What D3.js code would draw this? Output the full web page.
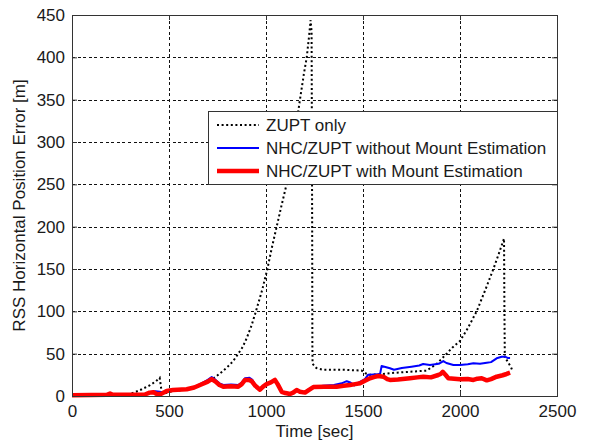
<!DOCTYPE html>
<html>
<head>
<meta charset="utf-8">
<script src="https://cdn.jsdelivr.net/npm/d3@7"></script>
<style>
  html, body { margin: 0; padding: 0; background: #fff; }
  svg { display: block; }
  text { font-family: "Liberation Sans", Arial, sans-serif; fill: #1a1a1a; }
</style>
</head>
<body>
<div id="chart"></div>
<script>
// ---- data ----
const xTicks = [0, 500, 1000, 1500, 2000, 2500];
const yTicks = [0, 50, 100, 150, 200, 250, 300, 350, 400, 450];
const seriesNames = ["ZUPT only", "NHC/ZUPT without Mount Estimation", "NHC/ZUPT with Mount Estimation"];
const xLabel = "Time [sec]";
const yLabel = "RSS Horizontal Position Error [m]";

// [time (s), error (m)]
const zuptOnly = [
  [0,0.5],[100,0.8],[200,1],[270,1.2],[300,2.5],[330,5],[360,8],[400,12.5],[430,17],[452,21.5],[462,5],[480,3],
  [500,5],[550,6.5],[600,8.5],[660,13],[700,17],[737,22],[770,28],[800,34],[830,41],[857,50],
  [880,58],[900,68],[925,83],[948,100],[980,125],[1007,150],[1030,175],[1055,200],[1080,225],[1106,250],[1143,300],
  [1175,350],[1195,380],[1210,400],[1222,425],[1230,444],[1235,430],[1238,200],[1239,60],[1240,38],
  [1260,33],[1294,31],[1400,31],[1493,30],[1510,27],[1536,25],[1600,26],[1639,27],[1700,28],
  [1828,30],[1880,38],[1923,48],[1960,57],[2000,65],[2040,80],[2086,100],[2130,125],[2172,150],
  [2200,168],[2227,186],[2229,100],[2231,46],[2263,34],[2270,30]
];

const withoutMount = [
  [0,1],[100,1.2],[180,1.5],[196,3],[210,1.5],[300,1.5],[376,2],[400,4.5],[430,5.5],[453,5],[470,4],
  [488,6],[520,7],[591,8],[630,10.5],[660,14],[700,19],[720,22.5],[740,19],[760,15],[780,13],
  [820,13.5],[857,13],[875,16],[892,21],[915,21.5],[930,19],[945,13],[969,8],[985,11],[1003,14],
  [1025,16],[1046,19],[1060,14],[1081,5.5],[1100,4],[1124,3],[1140,4.5],[1158,7],[1175,5.5],
  [1201,4.5],[1220,8],[1244,11],[1278,11.5],[1294,12.2],[1350,13],[1390,15],[1416,17.5],[1435,16],
  [1455,12.5],[1480,16],[1510,20],[1526,25],[1560,25.5],[1588,26],[1596,35.5],[1620,34],[1639,32.7],
  [1660,31],[1700,33],[1750,34.6],[1790,36],[1810,37.8],[1845,36.6],[1890,38],[1914,41.3],[1930,39],
  [1966,36.6],[2000,36.6],[2040,37.5],[2069,38.6],[2103,38],[2138,39.3],[2160,40],[2189,44.5],
  [2215,46.4],[2232,46.4],[2245,45],[2258,45]
];

const withMount = [
  [0,1],[100,1.2],[180,1.5],[196,3],[210,1.5],[300,1.5],[376,1.8],[400,4],[420,4.5],[437,2.4],
  [460,2.5],[488,6],[520,7],[591,8],[630,10],[660,13],[700,17],[720,20],[740,17],[760,13],[780,11],
  [820,11.5],[857,11],[875,14],[892,19],[910,19],[926,17.7],[945,12],[969,7.5],[985,11],[1003,14],
  [1025,16],[1046,19],[1060,14],[1081,5],[1100,3.5],[1124,2.4],[1140,4],[1158,7],[1175,5],[1201,4],
  [1220,7],[1244,10.5],[1300,11],[1364,11],[1400,12],[1433,13],[1460,14],[1485,15],[1510,18],
  [1536,21],[1560,22.5],[1579,23.6],[1605,22.8],[1625,20],[1639,19],[1680,19.5],[1742,21],[1780,22],
  [1811,22.8],[1850,22],[1888,24.8],[1900,26],[1911,28.5],[1925,25],[1940,21],[1970,20.5],[2000,19.7],
  [2040,20],[2069,19],[2090,20.5],[2112,21],[2138,18.5],[2160,20],[2189,22.8],[2220,24.5],[2240,26],
  [2258,27.5]
];

// ---- layout ----
const W = 591, H = 444;
const L = 72, R = 557, T = 15, B = 396;
const fs = 17;

const svg = d3.select("#chart").append("svg").attr("width", W).attr("height", H);

const x = d3.scaleLinear().domain([0, 2500]).range([L, R]);
const y = d3.scaleLinear().domain([0, 450]).range([B, T]);

// grid
const grid = svg.append("g").attr("stroke", "#111").attr("stroke-width", 1)
  .attr("stroke-dasharray", "3,2.6").attr("shape-rendering", "crispEdges");
grid.selectAll("line.gx").data(xTicks.slice(1, -1)).enter().append("line")
  .attr("x1", d => Math.round(x(d)) + 0.5).attr("x2", d => Math.round(x(d)) + 0.5)
  .attr("y1", T).attr("y2", B);
grid.selectAll("line.gy").data(yTicks.slice(1, -1)).enter().append("line")
  .attr("y1", d => Math.round(y(d)) + 0.5).attr("y2", d => Math.round(y(d)) + 0.5)
  .attr("x1", L).attr("x2", R);

// lines
const line = d3.line().x(d => x(d[0])).y(d => y(d[1]));
const plot = svg.append("g");
plot.append("path").datum(zuptOnly).attr("d", line).attr("fill", "none")
  .attr("stroke", "#000").attr("stroke-width", 2).attr("stroke-dasharray", "2,2.6");
plot.append("path").datum(withoutMount).attr("d", line).attr("fill", "none")
  .attr("stroke", "#0000ff").attr("stroke-width", 2).attr("stroke-linejoin", "round");
plot.append("path").datum(withMount).attr("d", line).attr("fill", "none")
  .attr("stroke", "#ff0000").attr("stroke-width", 4.5).attr("stroke-linejoin", "round");

// axes (MATLAB-style inward ticks on all sides)
const tickLen = 5;
const axBottom = d3.axisBottom(x).tickValues(xTicks).tickSize(-tickLen).tickPadding(9).tickFormat(d3.format("d"));
const axTop = d3.axisTop(x).tickValues(xTicks).tickSize(-tickLen).tickFormat("");
const axLeft = d3.axisLeft(y).tickValues(yTicks).tickSize(-tickLen).tickPadding(7).tickFormat(d3.format("d"));
const axRight = d3.axisRight(y).tickValues(yTicks).tickSize(-tickLen).tickFormat("");

function style(g) {
  g.select(".domain").remove();
  g.selectAll(".tick line").attr("stroke", "#333");
  g.selectAll(".tick text").attr("font-size", fs).attr("fill", "#1a1a1a")
    .attr("font-family", "'Liberation Sans', Arial, sans-serif");
}
svg.append("g").attr("transform", `translate(0,${B})`).call(axBottom).call(style);
svg.append("g").attr("transform", `translate(0,${T})`).call(axTop).call(style);
svg.append("g").attr("transform", `translate(${L},0)`).call(axLeft).call(style);
svg.append("g").attr("transform", `translate(${R},0)`).call(axRight).call(style);

// box
svg.append("rect").attr("x", L + 0.5).attr("y", T + 0.5).attr("width", R - L).attr("height", B - T)
  .attr("fill", "none").attr("stroke", "#333").attr("stroke-width", 1);

// axis labels
svg.append("text").attr("x", (L + R) / 2).attr("y", 437).attr("text-anchor", "middle")
  .attr("font-size", fs).text(xLabel);
svg.append("text").attr("transform", `translate(25,${(T + B) / 2}) rotate(-90)`)
  .attr("text-anchor", "middle").attr("font-size", fs).text(yLabel);

// legend
const lg = svg.append("g");
const lgX = 208, lgY = 111, lgW = R - lgX, lgH = 73;
lg.append("rect").attr("x", lgX + 0.5).attr("y", lgY + 0.5).attr("width", lgW).attr("height", lgH)
  .attr("fill", "#fff").attr("stroke", "#333").attr("stroke-width", 1);
const rowsY = [125, 148, 171];
const styles = [
  {stroke: "#000", w: 2, dash: "2,2.6"},
  {stroke: "#0000ff", w: 2, dash: null},
  {stroke: "#ff0000", w: 4.5, dash: null}
];
seriesNames.forEach((name, i) => {
  lg.append("line").attr("x1", 217).attr("x2", 259).attr("y1", rowsY[i]).attr("y2", rowsY[i])
    .attr("stroke", styles[i].stroke).attr("stroke-width", styles[i].w)
    .attr("stroke-dasharray", styles[i].dash);
  lg.append("text").attr("x", 266).attr("y", rowsY[i]).attr("dy", "0.35em")
    .attr("font-size", fs).text(name);
});
</script>
</body>
</html>
